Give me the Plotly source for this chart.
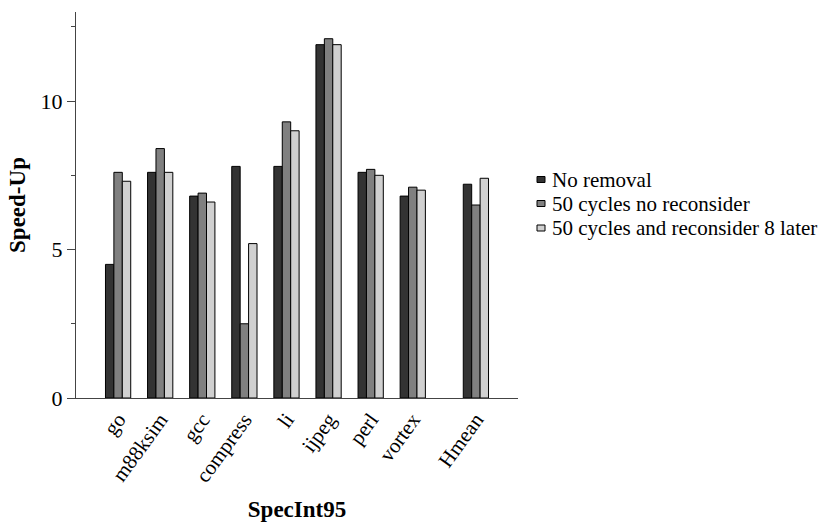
import plotly.graph_objects as go

categories = ["go", "m88ksim", "gcc", "compress", "li", "ijpeg", "perl", "vortex", "Hmean"]
no_removal = [4.5, 7.6, 6.8, 7.8, 7.8, 11.9, 7.6, 6.8, 7.2]
cycles50_no_reconsider = [7.6, 8.4, 6.9, 2.5, 9.3, 12.1, 7.7, 7.1, 6.5]
cycles50_reconsider8 = [7.3, 7.6, 6.6, 5.2, 9.0, 11.9, 7.5, 7.0, 7.4]
series_names = ["No removal", "50 cycles no reconsider", "50 cycles and reconsider 8 later"]
y_ticks = [0, 5, 10]
y_minor_ticks = [2.5, 7.5, 12.5]

# Hmean is set apart from the benchmarks by an extra half slot
x_pos = [float(i) for i in range(len(categories) - 1)] + [len(categories) - 0.5]

colors = ["#333333", "#808080", "#d0d0d0"]
FONT = "Liberation Serif"

# plot area in pixels (for placing the legend in paper coordinates)
L, R, T, B, W, H = 76, 307, 12, 131, 825, 529
PW, PH = W - L - R, H - T - B


def px_x(px):
    return (px - L) / PW


def px_y(py):
    return (H - B - py) / PH


fig = go.Figure()
for name, vals, col in zip(series_names,
                           [no_removal, cycles50_no_reconsider, cycles50_reconsider8],
                           colors):
    fig.add_trace(go.Bar(x=x_pos, y=vals, name=name, showlegend=False,
                         marker=dict(color=col, line=dict(color="black", width=1))))

# legend: small swatches plus text, stacked
legend_centers = [179.5, 203.5, 228.0]
for name, col, cy in zip(series_names, colors, legend_centers):
    fig.add_shape(type="rect", xref="paper", yref="paper",
                  x0=px_x(537), x1=px_x(545), y0=px_y(cy + 3), y1=px_y(cy - 3),
                  fillcolor=col, line=dict(color="black", width=1))
    fig.add_annotation(text=name, xref="paper", yref="paper", x=px_x(550), y=px_y(cy),
                       xanchor="left", yanchor="middle", showarrow=False,
                       font=dict(family=FONT, size=21, color="black"))

fig.update_layout(
    width=W, height=H,
    margin=dict(l=L, r=R, t=T, b=B, autoexpand=False),
    paper_bgcolor="white", plot_bgcolor="white",
    font=dict(family=FONT, size=22, color="black"),
    barmode="group", bargap=0.4, bargroupgap=0,
    showlegend=False,
)
fig.update_xaxes(
    range=[-1, 9.5], tickvals=x_pos, ticktext=categories, tickangle=-54,
    ticks="", showline=True, linecolor="#444", linewidth=1,
    showgrid=False, zeroline=False,
    tickfont=dict(family=FONT, size=21, color="black"),
    title=dict(text="<b>SpecInt95</b>", font=dict(family=FONT, size=23, color="black"), standoff=14),
)
fig.update_yaxes(
    range=[0, 13], tickvals=y_ticks, ticks="outside", ticklen=8, tickcolor="#444",
    minor=dict(tickvals=y_minor_ticks, ticks="outside", ticklen=4, tickcolor="#444"),
    showline=True, linecolor="#444", linewidth=1,
    showgrid=False, zeroline=False,
    tickfont=dict(family=FONT, size=22, color="black"),
    title=dict(text="<b>Speed-Up</b>", font=dict(family=FONT, size=23, color="black"), standoff=8),
)

fig.write_html("out.html")
